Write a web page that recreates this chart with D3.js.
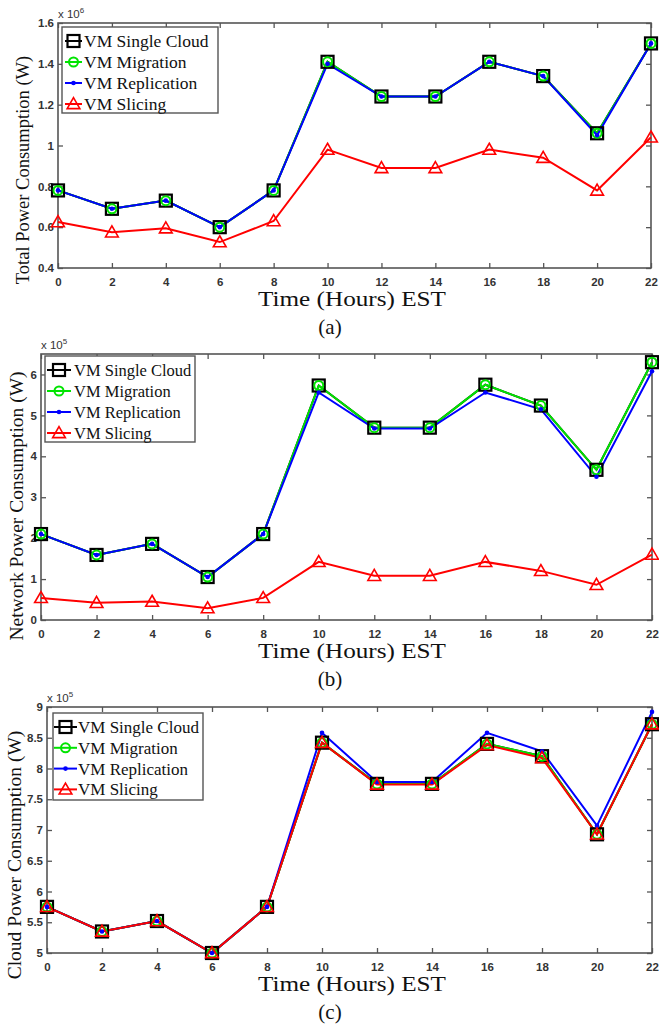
<!DOCTYPE html>
<html><head><meta charset="utf-8">
<script src="https://cdn.jsdelivr.net/npm/d3@7"></script>
<style>body{margin:0;background:#fff}svg{display:block}</style>
</head><body>
<svg id="chart" width="659" height="1025"></svg>
<script>
// ---------------- DATA ----------------
const hours = [0,2,4,6,8,10,12,14,16,18,20,22];
const xTicks = [0,2,4,6,8,10,12,14,16,18,20,22];
const seriesNames = ["VM Single Cloud","VM Migration","VM Replication","VM Slicing"];

// (a) Total power, x 10^6 W
const totalSingle      = [0.78,0.69,0.73,0.60,0.78,1.41,1.24,1.24,1.41,1.34,1.06,1.50];
const totalMigration   = [0.78,0.69,0.73,0.60,0.78,1.41,1.24,1.24,1.41,1.34,1.06,1.50];
const totalReplication = [0.78,0.69,0.73,0.60,0.78,1.40,1.24,1.24,1.41,1.34,1.05,1.50];
const totalSlicing     = [0.625,0.575,0.595,0.527,0.63,0.98,0.89,0.89,0.98,0.94,0.78,1.04];
const totalTicks = [0.4,0.6,0.8,1,1.2,1.4,1.6];

// (b) Network power, x 10^5 W
const netSingle      = [2.1,1.59,1.86,1.05,2.1,5.73,4.7,4.7,5.75,5.24,3.67,6.3];
const netMigration   = [2.1,1.59,1.86,1.05,2.1,5.73,4.7,4.7,5.75,5.24,3.67,6.3];
const netReplication = [2.1,1.59,1.86,1.05,2.1,5.56,4.68,4.68,5.56,5.15,3.5,6.08];
const netSlicing     = [0.54,0.42,0.45,0.29,0.54,1.42,1.08,1.08,1.42,1.2,0.86,1.6];
const netTicks = [0,1,2,3,4,5,6];

// (c) Cloud power, x 10^5 W
const cloudSingle      = [5.75,5.35,5.52,5.0,5.75,8.42,7.75,7.75,8.4,8.2,6.93,8.72];
const cloudMigration   = [5.75,5.35,5.52,5.0,5.75,8.42,7.75,7.75,8.4,8.2,6.93,8.72];
const cloudReplication = [5.75,5.35,5.52,5.0,5.75,8.58,7.78,7.78,8.58,8.28,7.07,8.92];
const cloudSlicing     = [5.75,5.35,5.52,5.0,5.75,8.42,7.74,7.74,8.38,8.17,6.93,8.72];
const cloudTicks = [5,5.5,6,6.5,7,7.5,8,8.5,9];

// ---------------- LAYOUT ----------------
const panels = [
  {left:58,right:651,top:23,bottom:268,domain:[0.4,1.6],ticks:totalTicks,exp:"6",
   series:[totalSingle,totalMigration,totalReplication,totalSlicing],
   ylabel:"Total Power Consumption (W)",ylabX:29,ylabY:170,ylabSize:18.5,
   leg:{x:62,y:27,w:156,h:86,row:21,s0:3,s1:20,tx:22,fs:17.5},
   sub:"(a)"},
  {left:41,right:652,top:354,bottom:620,domain:[0,6.5],ticks:netTicks,exp:"5",
   series:[netSingle,netMigration,netReplication,netSlicing],
   ylabel:"Network Power Consumption (W)",ylabX:23,ylabY:506,ylabSize:19.5,
   leg:{x:45,y:356,w:150,h:86,row:21,s0:2,s1:26,tx:29,fs:16.5},
   sub:"(b)"},
  {left:47,right:652,top:707,bottom:953,domain:[5,9],ticks:cloudTicks,exp:"5",
   series:[cloudSingle,cloudMigration,cloudReplication,cloudSlicing],
   ylabel:"Cloud Power Consumption (W)",ylabX:21,ylabY:855,ylabSize:19.5,
   leg:{x:53,y:713,w:150,h:87,row:20.8,s0:1,s1:24,tx:25,fs:17},
   sub:"(c)"}
];

const colors = ["#000000","#00e400","#0000ff","#ff0000"];
const serif = "'Liberation Serif','Times New Roman',serif";
const sans = "'Liberation Sans',Arial,sans-serif";
const axisColor = "#555";

const svg = d3.select("#chart");
const tri = d3.symbol().type(d3.symbolTriangle).size(70);

function drawMarker(g, k, x, y) {
  if (k === 0) {
    g.append("rect").attr("x",x-6).attr("y",y-6).attr("width",12).attr("height",12)
      .attr("fill","none").attr("stroke","#000").attr("stroke-width",2.2);
  } else if (k === 1) {
    g.append("circle").attr("cx",x).attr("cy",y).attr("r",4.5)
      .attr("fill","none").attr("stroke",colors[1]).attr("stroke-width",2);
  } else if (k === 2) {
    g.append("circle").attr("cx",x).attr("cy",y).attr("r",2.3).attr("fill",colors[2]);
  } else {
    g.append("path").attr("d",tri).attr("transform",`translate(${x},${y+1})`)
      .attr("fill","none").attr("stroke",colors[3]).attr("stroke-width",1.6);
  }
}

panels.forEach(p => {
  const g = svg.append("g");
  const x = d3.scaleLinear().domain([0,22]).range([p.left,p.right]);
  const y = d3.scaleLinear().domain(p.domain).range([p.bottom,p.top]);

  // frame
  g.append("rect").attr("x",p.left).attr("y",p.top)
    .attr("width",p.right-p.left).attr("height",p.bottom-p.top)
    .attr("fill","none").attr("stroke",axisColor).attr("stroke-width",1.6);

  // axes with inward ticks (bottom/left labelled, top/right tick-only)
  const fmt = d => d3.format("~g")(d);
  const axB = g.append("g").attr("transform",`translate(0,${p.bottom})`)
    .call(d3.axisBottom(x).tickValues(xTicks).tickSize(-5).tickPadding(10).tickFormat(fmt));
  const axT = g.append("g").attr("transform",`translate(0,${p.top})`)
    .call(d3.axisTop(x).tickValues(xTicks).tickSize(-5).tickFormat(""));
  const axL = g.append("g").attr("transform",`translate(${p.left},0)`)
    .call(d3.axisLeft(y).tickValues(p.ticks).tickSize(-5).tickPadding(4).tickFormat(fmt));
  const axR = g.append("g").attr("transform",`translate(${p.right},0)`)
    .call(d3.axisRight(y).tickValues(p.ticks).tickSize(-5).tickFormat(""));
  [axB,axT,axL,axR].forEach(a => {
    a.select(".domain").remove();
    a.selectAll(".tick line").attr("stroke",axisColor).attr("stroke-width",1.3);
    a.selectAll(".tick text").attr("font-family",sans).attr("font-size",11.5)
      .attr("font-weight","bold").attr("fill","#333");
  });

  // exponent label
  const ex = g.append("text").attr("x",p.left).attr("y",p.top-5)
    .attr("font-family",sans).attr("font-size",11.5).attr("fill","#333");
  ex.append("tspan").text("x 10");
  ex.append("tspan").attr("dy",-5).attr("font-size",8).text(p.exp);

  // series lines and markers
  p.series.forEach((vals,k) => {
    const line = d3.line().x((d,i)=>x(hours[i])).y(d=>y(d));
    g.append("path").datum(vals).attr("d",line).attr("fill","none")
      .attr("stroke",colors[k]).attr("stroke-width",2);
  });
  p.series.forEach((vals,k) => {
    vals.forEach((v,i) => drawMarker(g,k,x(hours[i]),y(v)));
  });

  // legend
  const L = p.leg;
  const lg = g.append("g");
  lg.append("rect").attr("x",L.x).attr("y",L.y).attr("width",L.w).attr("height",L.h)
    .attr("fill","#fff").attr("stroke",axisColor).attr("stroke-width",1.4);
  seriesNames.forEach((name,k) => {
    const cy = L.y + 14 + k*L.row;
    lg.append("line").attr("x1",L.x+L.s0).attr("x2",L.x+L.s1).attr("y1",cy).attr("y2",cy)
      .attr("stroke",colors[k]).attr("stroke-width",2);
    drawMarker(lg,k,L.x+(L.s0+L.s1)/2,cy);
    lg.append("text").attr("x",L.x+L.tx).attr("y",cy+6)
      .attr("font-family",serif).attr("font-size",L.fs).attr("fill","#111").text(name);
  });

  // y label
  g.append("text").attr("transform",`translate(${p.ylabX},${p.ylabY}) rotate(-90)`)
    .attr("text-anchor","middle").attr("font-family",serif).attr("font-size",p.ylabSize)
    .attr("fill","#111").text(p.ylabel);

  // x label
  g.append("text").attr("x",352).attr("y",p.bottom+38).attr("text-anchor","middle")
    .attr("font-family",serif).attr("font-size",21).attr("fill","#111")
    .attr("textLength",188).attr("lengthAdjust","spacingAndGlyphs")
    .text("Time (Hours) EST");

  // subplot label
  g.append("text").attr("x",330).attr("y",p.bottom+66).attr("text-anchor","middle")
    .attr("font-family",serif).attr("font-size",21).attr("fill","#111").text(p.sub);
});
</script>
</body></html>
